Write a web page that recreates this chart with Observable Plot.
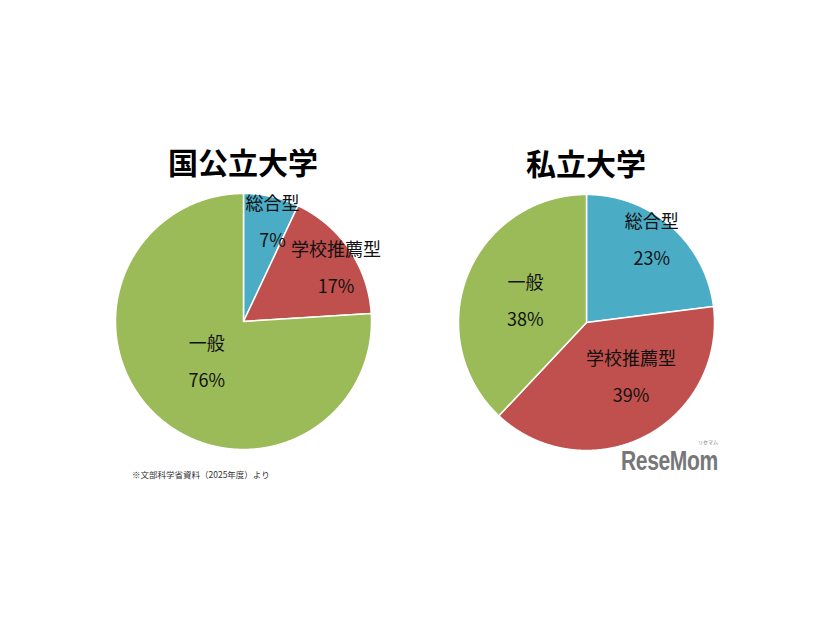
<!DOCTYPE html>
<html lang="ja">
<head>
<meta charset="utf-8">
<script src="https://cdn.jsdelivr.net/npm/d3@7"></script>
<script src="https://cdn.jsdelivr.net/npm/@observablehq/plot@0.6"></script>
<style>
  html, body { margin: 0; padding: 0; background: #fff; }
  #page { position: relative; width: 826px; height: 620px; overflow: hidden; background: #fff;
          font-family: "Noto Sans CJK JP", "Noto Sans", sans-serif; }
  .title { position: absolute; width: 330px; text-align: center; font-weight: 700; font-size: 30px;
           color: #000; line-height: 1; }
  .chart { position: absolute; }
  #note { position: absolute; left: 132px; top: 468px; font-size: 8.5px; color: #333; }
  #logo { position: absolute; left: 621px; top: 448px; font-family: "Liberation Sans", sans-serif;
          font-weight: 700; font-size: 27px; color: #777; letter-spacing: -0.5px; line-height: 1;
          transform: scaleX(0.78); transform-origin: left top; white-space: nowrap; }
  #logo-kana { position: absolute; left: 698px; top: 439px; font-size: 5px; color: #777; line-height: 1; }
</style>
</head>
<body>
<div id="page">
  <div class="title" style="left:78px; top:146px;">国公立大学</div>
  <div class="title" style="left:421px; top:147px;">私立大学</div>
  <div class="chart" id="pie-public" style="left:78px; top:176px;"></div>
  <div class="chart" id="pie-private" style="left:421px; top:177px;"></div>
  <div id="note">※文部科学省資料（2025年度）より</div>
  <div id="logo">ReseMom</div>
  <div id="logo-kana">リセマム</div>
</div>
<script>
// Admission route categories and their shares (%)
const categories = ["総合型", "学校推薦型", "一般"];
const publicShares = [7, 17, 76];
const privateShares = [23, 39, 38];
const sliceColors = ["#4BACC6", "#C0504D", "#9BBB59"];

// Frame size in pixels and pie radius in pixels
const W = 330, H = 290, R = 128;

// Label placement per slice: radius as a fraction of the pie radius,
// and a small angular nudge (degrees) from the slice's mid-angle.
const publicLabelPlacement = [
  {r: 0.82, nudge: 3.5},
  {r: 0.84, nudge: 3.5},
  {r: 0.42, nudge: 0}
];
const privateLabelPlacement = [
  {r: 0.83, nudge: -3.5},
  {r: 0.54, nudge: -13},
  {r: 0.51, nudge: -1}
];

function drawPie(shares, placement) {
  const arcs = d3.pie().sort(null).value(d => d)(shares);
  const slices = arcs.map((a, i) => ({
    category: categories[i], value: shares[i], start: a.startAngle, end: a.endAngle
  }));

  // Wedges as planar polygons (unit radius, y up, clockwise from 12 o'clock)
  const wedges = slices.map(s => {
    const n = Math.max(4, Math.ceil((s.end - s.start) / 0.005));
    const ring = [[0, 0]];
    for (let k = 0; k <= n; ++k) {
      const t = s.start + (s.end - s.start) * k / n;
      ring.push([Math.sin(t), Math.cos(t)]);
    }
    ring.push([0, 0]);
    return {type: "Feature", properties: s, geometry: {type: "Polygon", coordinates: [ring]}};
  });

  const labels = slices.map((s, i) => {
    const mid = (s.start + s.end) / 2 + placement[i].nudge * Math.PI / 180;
    return {
      x: placement[i].r * Math.sin(mid),
      y: placement[i].r * Math.cos(mid),
      text: `${s.category}\n${s.value}%`
    };
  });

  // Frame extent in the same planar units so that the unit circle has radius R px
  const hx = W / 2 / R, hy = H / 2 / R;
  const frame = {type: "Polygon", coordinates: [[[-hx, -hy], [hx, -hy], [hx, hy], [-hx, hy], [-hx, -hy]]]};

  return Plot.plot({
    width: W,
    height: H,
    margin: 0,
    projection: {type: "reflect-y", domain: frame},
    marks: [
      Plot.geo(wedges, {
        fill: (d, i) => sliceColors[i],
        stroke: "#fff",
        strokeWidth: 1.5,
        strokeLinejoin: "round"
      }),
      Plot.text(labels, {
        x: "x", y: "y", text: "text", dy: -4,
        fontSize: 18, lineHeight: 2.05, fill: "#111",
        fontFamily: "'Noto Sans CJK JP', sans-serif"
      })
    ]
  });
}

document.getElementById("pie-public").append(drawPie(publicShares, publicLabelPlacement));
document.getElementById("pie-private").append(drawPie(privateShares, privateLabelPlacement));
</script>
</body>
</html>
